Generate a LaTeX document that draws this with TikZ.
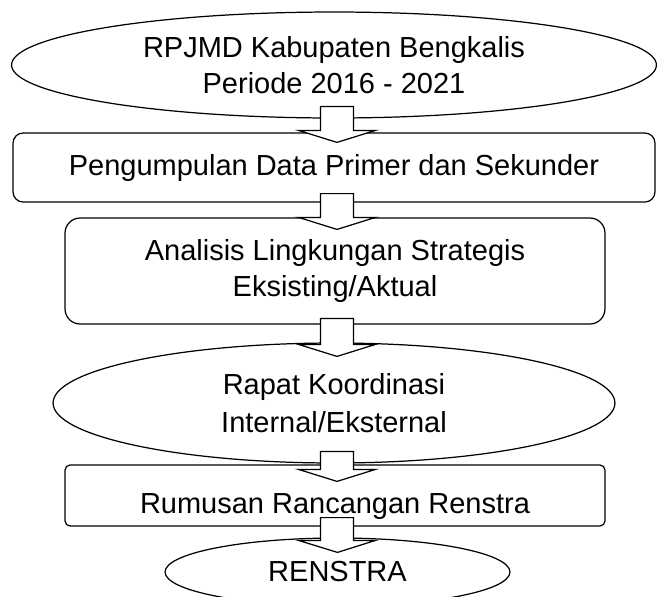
\documentclass[tikz,border=0pt]{standalone}
\usepackage{fontspec}
\setmainfont{Liberation Sans}
\usepackage{tikz}
\usetikzlibrary{shapes,calc}
\tikzset{elips/.style={
    ellipse,
    draw,
    line width=0.7pt,
    align=center,
    inner sep=0pt}}
\tikzset{kotak/.style={
    rectangle,
    rounded corners=0.2cm,
    draw,
    line width=0.7pt,
    align=center,
    inner sep=0pt}}
\tikzset{panah/.style={
    draw,
    fill=white,
    line width=0.7pt,
    to path={let \p1=(\tikztostart), \p2=(\tikztotarget) in
      (\x1-0.33cm,\y1) -- (\x1+0.33cm,\y1) -- (\x1+0.33cm,\y2+0.24cm)
      -- (\x1+0.77cm,\y2+0.24cm) -- (\x2,\y2) -- (\x1-0.77cm,\y2+0.24cm)
      -- (\x1-0.33cm,\y2+0.24cm) -- cycle}}}

\begin{document}
\begin{tikzpicture}[x=0.02cm, y=0.02cm, font=\fontsize{16.5}{20.5}\selectfont]

\useasboundingbox (0,0) rectangle (659,-596);

\coordinate (E1) at (334,-65);
\coordinate (R2) at (334,-167.5);
\coordinate (R3) at (335,-271);
\coordinate (E4) at (334,-403);
\coordinate (R5) at (335,-495.5);
\coordinate (E6) at (337.5,-572);

\node[elips,
  minimum width=12.9cm,
  minimum height=2.12cm] (ell1) at (E1) {RPJMD Kabupaten Bengkalis\\Periode 2016 - 2021};

\node[kotak,
  minimum width=12.84cm,
  minimum height=1.38cm] (rect2) at (R2) {Pengumpulan Data Primer dan Sekunder};

\node[kotak,
  rounded corners=0.3cm,
  minimum width=10.8cm,
  minimum height=2.12cm] (rect3) at (R3) {Analisis Lingkungan Strategis\\Eksisting/Aktual};

\node[elips,
  minimum width=11.24cm,
  minimum height=2.4cm] (ell4) at (E4) {Rapat Koordinasi\\[1pt]Internal/Eksternal};

\node[kotak,
  rounded corners=0.1cm,
  text height=0.85cm,
  text depth=0.15cm,
  minimum width=10.8cm,
  minimum height=1.22cm] (rect5) at (R5) {Rumusan Rancangan Renstra};

\node[elips,
  minimum width=6.9cm,
  minimum height=1.36cm] (ell6) at (E6) {RENSTRA};

\draw[panah] ($(ell1.south)+(3,12)$) to ($(rect2.north)+(3,-10)$);
\draw[panah] ($(rect2.south)+(3,9)$) to ($(rect3.north)+(2,-12)$);
\draw[panah] ($(rect3.south)+(2,6)$) to ($(ell4.north)+(3,-14)$);
\draw[panah] ($(ell4.south)+(3,12)$) to ($(rect5.north)+(2,-17)$);
\draw[panah] ($(rect5.south)+(2,9)$) to ($(ell6.north)+(0,-15)$);

\end{tikzpicture}
\end{document}
